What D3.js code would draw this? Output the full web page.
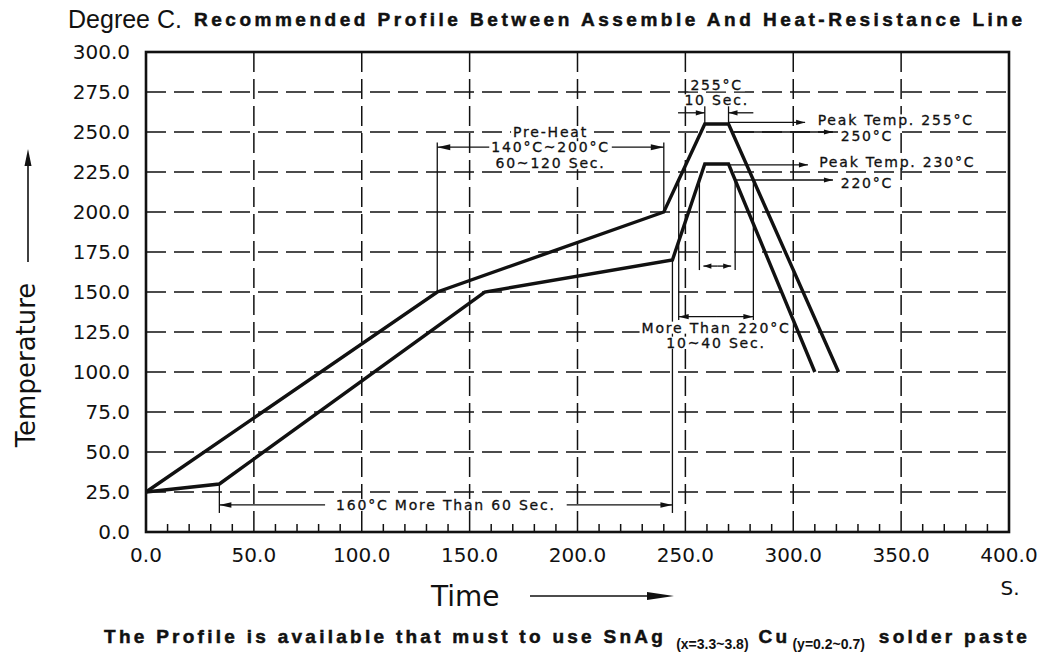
<!DOCTYPE html>
<html>
<head>
<meta charset="utf-8">
<script src="https://cdn.jsdelivr.net/npm/d3@7"></script>
<style>
  body { margin: 0; background: #fff; }
  svg { display: block; }
</style>
</head>
<body>
<div id="chart"></div>
<script>
// tick values
var xTickValues = [0, 50, 100, 150, 200, 250, 300, 350, 400];
var yTickValues = [0, 25, 50, 75, 100, 125, 150, 175, 200, 225, 250, 275, 300];
var xMinorTicks = [10, 20, 30, 40, 60, 70, 80, 90, 110, 120, 130, 140, 160, 170, 180, 190,
                   210, 220, 230, 240, 260, 270, 280, 290, 310, 320, 330, 340, 360, 370, 380, 390];

// heat-resistance line (upper) and assemble line (lower): [time s, temp C]
var upperProfile = [[0, 25], [135, 150], [240, 200], [259, 255], [270, 255], [321, 100]];
var lowerProfile = [[0, 25], [34, 30], [157, 150], [244, 170], [259, 230], [270, 230], [310, 100]];

var width = 1046, height = 655;
var X = d3.scaleLinear().domain([0, 400]).range([146, 1009]);
var Y = d3.scaleLinear().domain([0, 300]).range([532, 52]);

var svg = d3.select("#chart").append("svg")
    .attr("width", width)
    .attr("height", height);

var ink = "#111";

// dashed grid
svg.append("g").selectAll("line")
    .data(yTickValues.filter(d => d > 0 && d < 300))
    .enter().append("line")
    .attr("x1", X(0)).attr("x2", X(400))
    .attr("y1", d => Y(d)).attr("y2", d => Y(d))
    .attr("stroke", ink).attr("stroke-width", 1.6)
    .attr("stroke-dasharray", "20,8");

svg.append("g").selectAll("line")
    .data(xTickValues.filter(d => d > 0 && d < 400))
    .enter().append("line")
    .attr("x1", d => X(d)).attr("x2", d => X(d))
    .attr("y1", Y(300)).attr("y2", Y(0))
    .attr("stroke", ink).attr("stroke-width", 1.5)
    .attr("stroke-dasharray", "20,7");

// minor ticks along the bottom
svg.append("g").selectAll("line")
    .data(xMinorTicks)
    .enter().append("line")
    .attr("x1", d => X(d)).attr("x2", d => X(d))
    .attr("y1", Y(0)).attr("y2", Y(0) - 8)
    .attr("stroke", ink).attr("stroke-width", 1.5);

// annotation layer
var ann = svg.append("g");
var txtLayer = svg.append("g");

function seg(x1, y1, x2, y2) {
    ann.append("line")
        .attr("x1", x1).attr("y1", y1).attr("x2", x2).attr("y2", y2)
        .attr("stroke", ink).attr("stroke-width", 1.3);
}
// line with a filled arrowhead at (x2, y2)
function arrow(x1, y1, x2, y2, len, hw) {
    len = len || 10; hw = hw || 2.6;
    seg(x1, y1, x2, y2);
    var a = Math.atan2(y2 - y1, x2 - x1);
    var bx = x2 - len * Math.cos(a), by = y2 - len * Math.sin(a);
    var px = -Math.sin(a) * hw, py = Math.cos(a) * hw;
    ann.append("path")
        .attr("d", "M" + x2 + "," + y2 + "L" + (bx + px) + "," + (by + py) + "L" + (bx - px) + "," + (by - py) + "Z")
        .attr("fill", ink);
}
function label(x, y, s, anchor, bg) {
    var t = txtLayer.append("text")
        .attr("x", x).attr("y", y)
        .attr("text-anchor", anchor || "start")
        .style("font-family", "DejaVu Sans, sans-serif")
        .style("font-size", "14px")
        .style("letter-spacing", "1.8px")
        .attr("fill", ink)
        .attr("stroke", ink).attr("stroke-width", 0.3)
        .text(s);
    if (bg !== false) {
        var b = t.node().getBBox();
        txtLayer.insert("rect", "text")
            .attr("x", b.x - 2).attr("y", b.y + 2)
            .attr("width", b.width + 4).attr("height", b.height - 4)
            .attr("fill", "#fff");
    }
    return t;
}
// temperature-crossing helper on a polyline segment
function cross(p, q, temp) {
    return p[0] + (q[0] - p[0]) * (temp - p[1]) / (q[1] - p[1]);
}

// --- Pre-Heat 140~200 C, 60~120 s
var phY = Y(240.5);
seg(X(135), Y(243.5), X(135), Y(150));
seg(X(240), Y(243.5), X(240), Y(200));
arrow(X(160.5), phY, X(135), phY, 13, 3);
arrow(X(215), phY, X(240), phY, 13, 3);
label(X(187.5), phY - 10, "Pre-Heat", "middle");
label(X(187.5), phY + 5, "140°C~200°C", "middle");
label(X(187.5), phY + 21, "60~120  Sec.", "middle");

// --- 255 C 10 s
var tsY = Y(262);
seg(X(259), Y(266.5), X(259), Y(255));
seg(X(270), Y(266.5), X(270), Y(255));
arrow(X(246.6), tsY, X(259), tsY, 9, 2.6);
arrow(X(281.5), tsY, X(270), tsY, 9, 2.6);
label(X(264.5), tsY - 22.5, "255°C", "middle");
label(X(264.5), tsY - 7.5, "10  Sec.", "middle");

// --- peak temps and level arrows
arrow(X(270), Y(256), X(305.5), Y(256), 9, 2.6);
label(X(311.3), Y(256) + 3, "Peak  Temp.  255°C");
arrow(X(cross(upperProfile[4], upperProfile[5], 250)), Y(250), X(318.4), Y(250), 9, 2.6);
label(X(322), Y(250) + 9, "250°C");
arrow(X(270), Y(229.5), X(306.8), Y(229.5), 9, 2.6);
label(X(312), Y(229.5) + 2, "Peak  Temp.  230°C");
arrow(X(cross(lowerProfile[5], lowerProfile[6], 220)), Y(220), X(318.4), Y(220), 9, 2.6);
label(X(322), Y(220) + 8, "220°C");

// --- more than 220 C, 10~40 s (upper line crossings)
var u1 = cross(upperProfile[2], upperProfile[3], 220), u2 = cross(upperProfile[4], upperProfile[5], 220);
var mtY = Y(134.6);
seg(X(u1), Y(220), X(u1), Y(132.5));
seg(X(u2), Y(220), X(u2), Y(132.5));
arrow((X(u1) + X(u2)) / 2, mtY, X(u1), mtY, 10, 2.6);
arrow((X(u1) + X(u2)) / 2, mtY, X(u2), mtY, 10, 2.6);
label(X((u1 + u2) / 2), mtY + 16, "More  Than  220°C", "middle");
label(X((u1 + u2) / 2), mtY + 31, "10~40  Sec.", "middle");

// inner bracket on the lower line
var l1 = cross(lowerProfile[3], lowerProfile[4], 220), l2 = cross(lowerProfile[5], lowerProfile[6], 220);
var inY = Y(166.2);
seg(X(l1), Y(220), X(l1), Y(163.7));
seg(X(l2), Y(220), X(l2), Y(163.7));
arrow((X(l1) + X(l2)) / 2, inY, X(l1) + 4, inY, 8, 2.6);
arrow((X(l1) + X(l2)) / 2, inY, X(l2) - 4, inY, 8, 2.6);

// --- 160 C more than 60 s
var bY = Y(16.9);
seg(X(34), Y(30), X(34), Y(11.9));
seg(X(244), Y(170), X(244), Y(11.9));
arrow(X(83), bY, X(34), bY, 12, 2.8);
arrow(X(195), bY, X(244), bY, 12, 2.8);
label(X(139), bY + 5, "160°C  More  Than  60  Sec.", "middle");

// profile lines
var line = d3.line().x(d => X(d[0])).y(d => Y(d[1]));
[upperProfile, lowerProfile].forEach(p => {
    svg.append("path")
        .attr("d", line(p))
        .attr("fill", "none")
        .attr("stroke", ink)
        .attr("stroke-width", 3.4)
        .attr("stroke-linejoin", "miter");
});

// frame
svg.append("rect")
    .attr("x", X(0)).attr("y", Y(300))
    .attr("width", X(400) - X(0)).attr("height", Y(0) - Y(300))
    .attr("fill", "none").attr("stroke", ink).attr("stroke-width", 2.6);

// tick labels
svg.append("g").selectAll("text")
    .data(xTickValues)
    .enter().append("text")
    .attr("x", d => X(d)).attr("y", 562)
    .attr("text-anchor", "middle")
    .style("font-family", "DejaVu Sans, sans-serif").style("font-size", "20px")
    .attr("fill", ink)
    .text(d => d.toFixed(1));

svg.append("g").selectAll("text")
    .data(yTickValues)
    .enter().append("text")
    .attr("x", 130).attr("y", d => Y(d))
    .attr("dy", "0.36em")
    .attr("text-anchor", "end")
    .style("font-family", "DejaVu Sans, sans-serif").style("font-size", "20px")
    .attr("fill", ink)
    .text(d => d.toFixed(1));

// axis titles
svg.append("text")
    .attr("transform", "translate(35,365) rotate(-90)")
    .attr("text-anchor", "middle")
    .style("font-family", "DejaVu Sans, sans-serif").style("font-size", "26px")
    .attr("fill", ink)
    .text("Temperature");
var axArrow = svg.append("g");
axArrow.append("line").attr("x1", 28).attr("x2", 28).attr("y1", 262).attr("y2", 162)
    .attr("stroke", ink).attr("stroke-width", 1.6);
axArrow.append("path").attr("d", "M28,149L24.5,166L31.5,166Z").attr("fill", ink);

svg.append("text")
    .attr("x", 431).attr("y", 606)
    .style("font-family", "DejaVu Sans, sans-serif").style("font-size", "28px")
    .attr("fill", ink)
    .text("Time");
svg.append("line").attr("x1", 530).attr("x2", 650).attr("y1", 596).attr("y2", 596)
    .attr("stroke", ink).attr("stroke-width", 1.6);
svg.append("path").attr("d", "M674,596L647,592L647,600Z").attr("fill", ink);

svg.append("text")
    .attr("x", 1010).attr("y", 595)
    .attr("text-anchor", "middle")
    .style("font-family", "DejaVu Sans, sans-serif").style("font-size", "20px")
    .attr("fill", ink)
    .text("S.");

// header
svg.append("text")
    .attr("x", 68).attr("y", 28)
    .attr("textLength", 114).attr("lengthAdjust", "spacingAndGlyphs")
    .style("font-family", "Liberation Sans Narrow, Liberation Sans, sans-serif").style("font-size", "25px")
    .attr("fill", ink)
    .text("Degree C.");

var heavy = "Liberation Sans Narrow, Liberation Sans, sans-serif";
svg.append("text")
    .attr("x", 194).attr("y", 26)
    .attr("textLength", 828).attr("lengthAdjust", "spacing")
    .style("font-family", heavy).style("font-size", "19px").style("font-weight", "bold")
    .attr("fill", ink).attr("stroke", ink).attr("stroke-width", 0.5)
    .text("Recommended Profile Between Assemble And Heat-Resistance Line");

// footer: one line, main pieces spread so the line runs from x=104 to x=1030
var footParts = [
    { s: "The Profile is available that must to use SnAg", sub: false, gap: 0 },
    { s: "(x=3.3~3.8)", sub: true, gap: 10 },
    { s: "Cu", sub: false, gap: 10 },
    { s: "(y=0.2~0.7)", sub: true, gap: 2 },
    { s: "solder paste", sub: false, gap: 14 }
];
var foot = svg.append("text")
    .attr("x", 104).attr("y", 643)
    .style("font-family", heavy).style("font-weight", "bold")
    .attr("fill", ink);
var prevSub = false;
var spans = footParts.map(p => {
    var dy = p.sub === prevSub ? 0 : (p.sub ? 6 : -6);
    prevSub = p.sub;
    return foot.append("tspan")
        .attr("dx", p.gap)
        .attr("dy", dy)
        .style("font-size", p.sub ? "14px" : "19px")
        .attr("stroke", p.sub ? "none" : ink).attr("stroke-width", 0.5)
        .text(p.s);
});
var natural = foot.node().getBBox().width;
var nMain = d3.sum(footParts.filter(p => !p.sub), p => p.s.length);
var ls = (926 - natural) / nMain;
spans.forEach((sp, i) => { if (!footParts[i].sub) sp.style("letter-spacing", ls + "px"); });
</script>
</body>
</html>
